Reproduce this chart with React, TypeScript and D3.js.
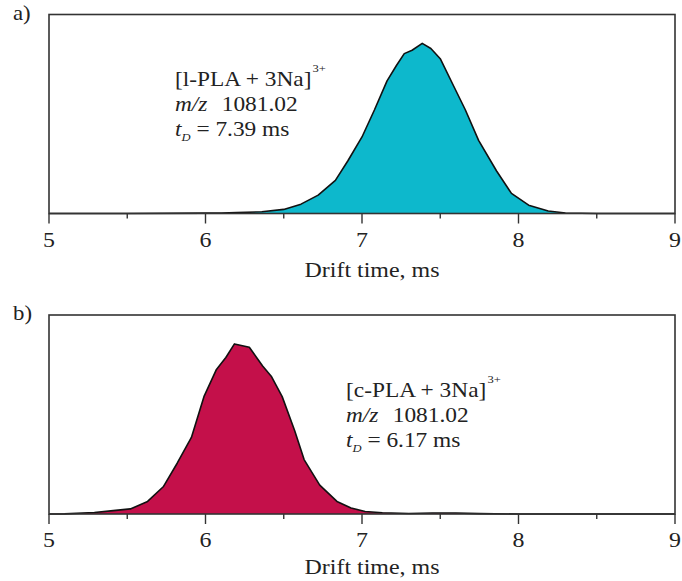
import React from "react";
import * as d3 from "d3";

// ---------- data ----------
const xTicks = [5, 6, 7, 8, 9];
const xMinorTicks = [5.5, 6.5, 7.5, 8.5];

const timeA = [5.0, 5.5, 6.0, 6.1, 6.2, 6.36, 6.5, 6.61, 6.72, 6.83, 6.91, 7.0, 7.08, 7.16, 7.22, 7.27, 7.32, 7.385, 7.44, 7.5, 7.58, 7.66, 7.745, 7.86, 7.955, 8.065, 8.19, 8.3, 8.5, 9.0];
const intensityA = [0, 0, 0.2, 0.3, 0.5, 1.0, 2.4, 5.5, 10.8, 19.5, 31, 45, 61, 78, 87, 94, 96, 100, 97, 91, 76, 61, 43, 25, 11.8, 4.9, 1.5, 0.3, 0, 0];

const timeB = [5.0, 5.1, 5.29, 5.41, 5.52, 5.63, 5.73, 5.82, 5.91, 5.99, 6.07, 6.13, 6.185, 6.28, 6.365, 6.42, 6.49, 6.57, 6.63, 6.73, 6.84, 6.93, 7.02, 7.13, 7.3, 7.45, 7.6, 7.75, 8.0, 9.0];
const intensityB = [0, 0.1, 0.9, 2, 3, 7.4, 16, 30, 45, 69, 85, 92, 100, 98, 87, 81, 69, 49, 32, 17, 7.4, 3.5, 1.5, 0.7, 0.3, 0.6, 0.6, 0.2, 0, 0];

const panelLabels = ["a)", "b)"];
const ionLabels = ["[l-PLA + 3Na]", "[c-PLA + 3Na]"];
const mzValues = ["1081.02", "1081.02"];
const tdValues = ["7.39", "6.17"];
const fillColors = ["#0db8cc", "#c4104a"];
const xTitle = "Drift time, ms";

const FONT = "'Liberation Serif', 'Times New Roman', serif";
const SX = 1.14;
const TEXT = "#222";

type PanelProps = {
  idx: number;
  top: number;
  bottom: number;
  times: number[];
  values: number[];
  annX: number;
  annY: number;
  titleDy: number;
};

const LEFT = 49;
const RIGHT = 675;

function STxt(props: { x: number; y: number; size: number; anchor?: string; children: React.ReactNode; italic?: boolean }) {
  return (
    <text
      transform={`translate(${props.x},${props.y}) scale(${SX},1)`}
      fontFamily={FONT}
      fontSize={props.size}
      fill={TEXT}
      textAnchor={props.anchor || "start"}
      fontStyle={props.italic ? "italic" : "normal"}
    >
      {props.children}
    </text>
  );
}

function Panel({ idx, top, bottom, times, values, annX, annY, titleDy }: PanelProps) {
  const x = d3.scaleLinear().domain([5, 9]).range([LEFT, RIGHT]);
  const y = d3.scaleLinear().domain([0, 117]).range([bottom, top]);
  const pts = times.map((t, i) => [t, values[i]] as [number, number]);
  const area = d3
    .area<[number, number]>()
    .x((d) => x(d[0]))
    .y0(y(0))
    .y1((d) => y(d[1]));
  const line = d3
    .line<[number, number]>()
    .x((d) => x(d[0]))
    .y((d) => y(d[1]));

  return (
    <g>
      <path d={area(pts) || ""} fill={fillColors[idx]} />
      <path d={line(pts) || ""} fill="none" stroke="#111" strokeWidth={1.6} strokeLinejoin="round" />
      <rect x={LEFT} y={top} width={RIGHT - LEFT} height={bottom - top} fill="none" stroke="#333" strokeWidth={1.6} />
      {xTicks.map((t) => (
        <line key={"M" + t} x1={x(t)} x2={x(t)} y1={bottom} y2={bottom + 10} stroke="#333" strokeWidth={1.4} />
      ))}
      {xMinorTicks.map((t) => (
        <line key={"m" + t} x1={x(t)} x2={x(t)} y1={bottom} y2={bottom + 5} stroke="#333" strokeWidth={1.4} />
      ))}
      {xTicks.map((t) => (
        <STxt key={"l" + t} x={x(t)} y={bottom + 33} size={21} anchor="middle">
          {String(t)}
        </STxt>
      ))}
      <STxt x={372} y={bottom + titleDy} size={21} anchor="middle">
        {xTitle}
      </STxt>
      <STxt x={13} y={top + 5} size={20}>
        {panelLabels[idx]}
      </STxt>
      {/* annotation */}
      <text transform={`translate(${annX},${annY}) scale(${SX},1)`} fontFamily={FONT} fontSize={20.5} fill={TEXT}>
        {ionLabels[idx]}
        <tspan fontSize={11} dy={-14} dx={1}>
          3+
        </tspan>
      </text>
      <text transform={`translate(${annX},${annY + 25}) scale(${SX},1)`} fontFamily={FONT} fontSize={20.5} fill={TEXT}>
        <tspan fontStyle="italic">m/z</tspan>
        <tspan x={41}>{mzValues[idx]}</tspan>
      </text>
      <text transform={`translate(${annX},${annY + 50}) scale(${SX},1)`} fontFamily={FONT} fontSize={20.5} fill={TEXT}>
        <tspan fontStyle="italic">t</tspan>
        <tspan fontStyle="italic" fontSize={11} dy={5}>
          D
        </tspan>
        <tspan dy={-5}>{" = " + tdValues[idx] + " ms"}</tspan>
      </text>
    </g>
  );
}

export default function App() {
  return (
    <svg
      width={682}
      height={581}
      viewBox="0 0 682 581"
      style={{ position: "absolute", left: 0, top: 0, background: "#fff" }}
    >
      <rect x={0} y={0} width={682} height={581} fill="#fff" />
      <Panel idx={0} top={14.5} bottom={213.5} times={timeA} values={intensityA} annX={175} annY={86} titleDy={63} />
      <Panel idx={1} top={315} bottom={514} times={timeB} values={intensityB} annX={346} annY={397} titleDy={60} />
    </svg>
  );
}
